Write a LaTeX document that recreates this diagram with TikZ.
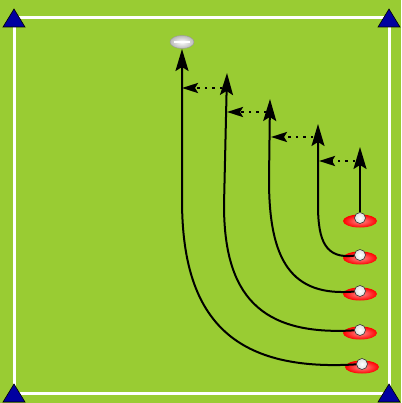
\documentclass[tikz,border=0pt]{standalone}
\usetikzlibrary{arrows.meta,shapes.geometric}
\definecolor{pitch}{HTML}{99CC33}
\definecolor{cone}{HTML}{0000A0}

\begin{document}
\begin{tikzpicture}[x=1pt,y=-1pt,
  player/.style={ellipse,minimum width=34pt,minimum height=13pt,inner sep=0pt,inner color=red!45!white,outer color=red},
  dot/.style={circle,minimum size=11pt,inner sep=0pt,draw=black!80,line width=.6pt,inner color=white,outer color=gray!25},
  ball/.style={ellipse,minimum width=24pt,minimum height=13pt,inner sep=0pt,draw=gray!80,inner color=white,outer color=gray!55},
  run/.style={line width=2pt,-{Stealth[length=22pt,width=13pt,inset=4pt]}},
  pass/.style={line width=2.5pt,dash pattern=on 2.5pt off 5pt,-{Stealth[length=16pt,width=10pt,inset=3pt]}}]
\useasboundingbox (0,0) rectangle (401,403);
\fill[pitch] (0,0) rectangle (401,403);
\draw[white,line width=3pt] (14,18) rectangle (389,393);
\foreach \x/\y in {14/18,389/18,14/393,389/393}
  \filldraw[fill=cone,draw=black,line width=.6pt] (\x,\y-9) -- (\x-11,\y+9) -- (\x+11,\y+9) -- cycle;

\node[ball] (ball) at (182,42) {};
\draw[white,line width=1.5pt] ([xshift=-8pt]ball.center) -- ([xshift=8pt]ball.center);

\foreach \n/\x/\y in {1/360/221,2/360/258,3/360/294,4/360/333,5/362/367}{
  \node[player] (p\n) at (\x,\y) {};
  \node[dot] (d\n) at (\x,\y-3) {};
}
\coordinate (t1) at (360,147);
\coordinate (t2) at (318,124);
\coordinate (t3) at (270,99);
\coordinate (t4) at (227,73);
\coordinate (t5) at (182,49);

\draw[run] (d1) -- (t1);
\draw[run] (d2) .. controls (326,259) and (318,242) .. (318,205) -- (t2);
\draw[run] (d3) .. controls (291,297) and (269,260) .. (269,180) -- (t3);
\draw[run] (d4) .. controls (260,336) and (224,295) .. (224,205) -- (t4);
\draw[run] (d5) .. controls (232,372) and (182,318) .. (182,200) -- (t5);

\foreach \n/\y/\a/\b in {1/161/355/319,2/137/313/271,3/112/266/227,4/88/222/182}{
  \coordinate (s\n) at (\a,\y);
  \coordinate (e\n) at (\b,\y);
  \draw[pass] (s\n) -- (e\n);
}
\end{tikzpicture}
\end{document}
